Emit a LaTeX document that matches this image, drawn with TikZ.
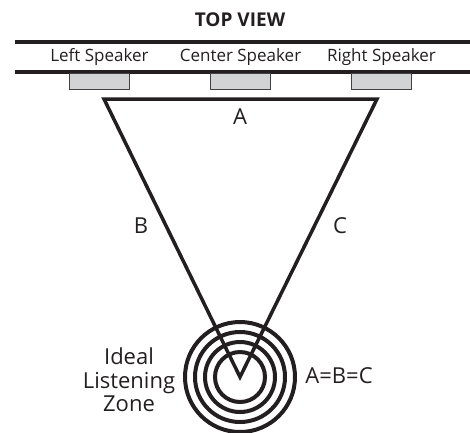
\documentclass[tikz,border=0pt]{standalone}
\usepackage{fontspec}
\setmainfont{Open Sans}
\definecolor{ink}{HTML}{231F20}
\definecolor{boxfill}{HTML}{D1D3D4}
\definecolor{boxline}{HTML}{414042}
\begin{document}
\begin{tikzpicture}[x=1pt,y=-1pt,
  wall/.style={draw=ink,line width=3.5pt},
  spk/.style={draw=boxline,fill=boxfill,line width=1.2pt,minimum width=60pt,minimum height=16pt,inner sep=0pt},
  lbl/.style={text=ink,font=\fontsize{17}{19}\selectfont,inner sep=0pt},
  side/.style={text=ink,font=\fontsize{22}{23.5}\selectfont,inner sep=0pt},
  tri/.style={draw=ink,line width=3.5pt,line join=miter,miter limit=20},
  ring/.style={draw=ink,line width=4pt}]
\useasboundingbox (0,0) rectangle (470,432);
\node[text=ink,font=\bfseries\fontsize{19}{21}\selectfont,inner sep=0pt] (title) at (240,20) {TOP VIEW};
\coordinate (w1l) at (15,42); \coordinate (w1r) at (470,42);
\coordinate (w2l) at (15,72); \coordinate (w2r) at (470,72);
\draw[wall] (w1l) -- (w1r);
\draw[wall] (w2l) -- (w2r);
\node[lbl] (tl) at (99.5,57) {Left Speaker};
\node[lbl] (tc) at (240.5,57) {Center Speaker};
\node[lbl] (tr) at (381.5,57) {Right Speaker};
\node[spk,anchor=north] (sl) at (99.5,73) {};
\node[spk,anchor=north] (sc) at (240.5,73) {};
\node[spk,anchor=north] (sr) at (381.5,73) {};
\coordinate (cen) at (240,377);
\foreach \r/\n in {55/r1,45/r2,35/r3,25/r4}
  \draw[ring] (cen) circle[radius=\r];
\coordinate (tlc) at (104,99);
\coordinate (trc) at (377,99);
\coordinate (apex) at (240,377);
\draw[tri] (tlc) -- (trc) -- (apex) -- cycle;
\node[side] (a) at (240,117) {A};
\node[side] (b) at (141,226) {B};
\node[side] (c) at (340,226) {C};
\node[side] (eq) at (339,376) {A=B=C};
\node[side,align=center] (zone) at (129,380) {Ideal\\Listening\\Zone};
\end{tikzpicture}
\end{document}
